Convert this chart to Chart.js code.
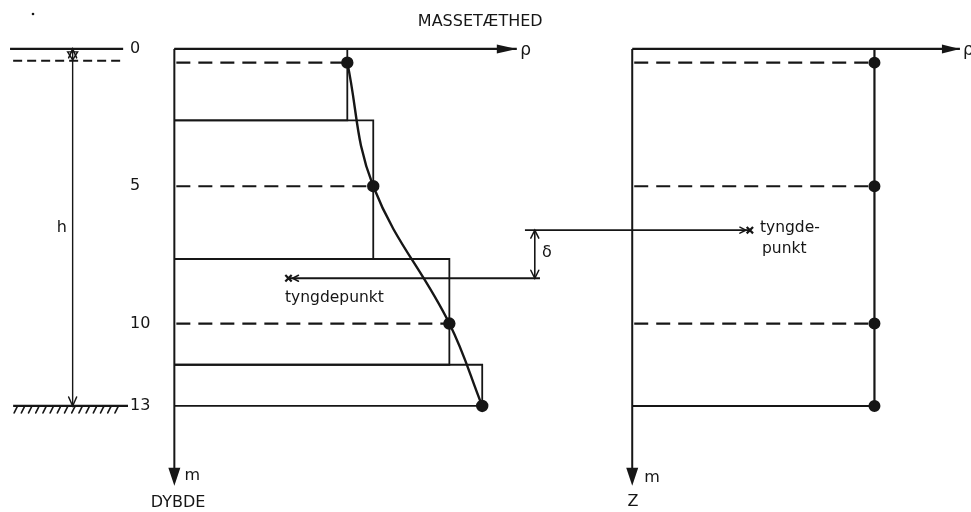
<!DOCTYPE html>
<html><head><meta charset="utf-8">
<script src="https://cdn.jsdelivr.net/npm/chart.js@4/dist/chart.umd.min.js"></script>
<style>html,body{margin:0;padding:0;background:#fff;overflow:hidden}#wrap{width:971px;height:512px}</style>
</head><body><div id="wrap"><canvas id="c" width="971" height="512"></canvas></div>
<script>
// ---------- data (depth in m, density in relative units) ----------
const depthTicks = [0, 5, 10, 13];
const depthTickLabels = ['0', '5', '10', '13'];
const sampleDepth = [0.5, 5, 10, 13];
const sampleDensity = [5.0, 5.75, 7.95, 8.9];
const layerTop = [0, 2.6, 7.65, 11.5];
const layerBottom = [2.6, 7.65, 11.5, 13];
const layerDensity = [5.0, 5.75, 7.95, 8.9];
const meanDensity = 7.0;
const waterDepth = 13;
const centroidDepthReal = 8.35;
const centroidDepthUniform = 6.6;

// ---------- layout (data units of the hidden scales) ----------
const AX = {xMin: -5.04, xMax: 23.03, x2Min: -18.27, x2Max: 9.79, yMin: -1.78, yMax: 16.86};
const rhoTipL = 9.9, rhoTipR = 9.47, depthTip = 15.9;
const cgReal = {from: 10.57, to: 3.3};      // left panel units
const cgUni = {from: -3.1, to: 3.4};        // right panel units
const deltaX = 10.42;                        // left panel units
const sketch = {surfFrom: -4.75, surfTo: -1.48, dashFrom: -4.66, dashDepth: 0.43,
                hX: -2.94, groundFrom: -4.66, groundTo: -1.34};
const INK = '#161616';

function seg(x1, y1, x2, y2) { return [{x: x1, y: y1}, {x: x2, y: y2}]; }
function line(data, opts) {
  return Object.assign({data, showLine: true, borderColor: INK, backgroundColor: INK,
    borderWidth: 2, pointRadius: 0, tension: 0, xAxisID: 'x', yAxisID: 'y'}, opts || {});
}

const datasets = [];
// left panel axes
datasets.push(line(seg(0, 0, rhoTipL, 0), {borderWidth: 2.3}));
datasets.push(line(seg(0, 0, 0, depthTip - 0.3)));
// layers (step profile)
layerTop.forEach((t, i) => {
  const b = layerBottom[i], r = layerDensity[i];
  datasets.push(line([{x: 0, y: t}, {x: r, y: t}, {x: r, y: b}, {x: 0, y: b}], {borderWidth: 1.8}));
});
// dashed sample depths (left)
sampleDepth.forEach((d, i) => {
  if (d < waterDepth) datasets.push(line(seg(0, d, sampleDensity[i], d), {borderDash: [14, 8], borderDashOffset: 20, borderWidth: 2.2}));
});
// measured density curve with sample points
datasets.push(line(sampleDepth.map((d, i) => ({x: sampleDensity[i], y: d})),
  {tension: 0.4, borderWidth: 2.4, pointRadius: 5, pointBackgroundColor: INK, pointBorderColor: INK}));

// right panel
const R = {xAxisID: 'x2'};
datasets.push(line(seg(0, 0, rhoTipR, 0), Object.assign({borderWidth: 2.3}, R)));
datasets.push(line(seg(0, 0, 0, depthTip - 0.3), R));
datasets.push(line(seg(meanDensity, 0, meanDensity, waterDepth), Object.assign({borderWidth: 2.2}, R)));
sampleDepth.forEach((d) => {
  if (d < waterDepth) datasets.push(line(seg(0, d, meanDensity, d), Object.assign({borderDash: [14, 8], borderDashOffset: 20, borderWidth: 2.2}, R)));
  else datasets.push(line(seg(0, d, meanDensity, d), R));
});
datasets.push(line(sampleDepth.map(d => ({x: meanDensity, y: d})),
  Object.assign({showLine: false, pointRadius: 5, pointBackgroundColor: INK, pointBorderColor: INK}, R)));

// centre of gravity lines
datasets.push(line(seg(cgReal.from, centroidDepthReal, cgReal.to, centroidDepthReal),
  {borderWidth: 1.8, pointStyle: 'crossRot', pointRadius: [0, 4.5], pointBorderWidth: 2.2}));
datasets.push(line(seg(cgUni.from, centroidDepthUniform, cgUni.to, centroidDepthUniform),
  Object.assign({borderWidth: 1.8, pointStyle: 'crossRot', pointRadius: [0, 4.5], pointBorderWidth: 2.2}, R)));
datasets.push(line(seg(deltaX, centroidDepthUniform, deltaX, centroidDepthReal), {borderWidth: 1.6}));

// water column sketch
datasets.push(line(seg(sketch.surfFrom, 0, sketch.surfTo, 0), {borderWidth: 2.2}));
datasets.push(line(seg(sketch.dashFrom, sketch.dashDepth, sketch.surfTo, sketch.dashDepth), {borderWidth: 2, borderDash: [9, 5]}));
datasets.push(line(seg(sketch.hX, 0, sketch.hX, waterDepth), {borderWidth: 1.4}));
datasets.push(line(seg(sketch.groundFrom, waterDepth, sketch.groundTo, waterDepth), {borderWidth: 2.2}));

const decor = {
  id: 'decor',
  afterDatasetsDraw(chart) {
    const {ctx} = chart;
    const sx = chart.scales.x, sx2 = chart.scales.x2, sy = chart.scales.y;
    const X = v => sx.getPixelForValue(v), X2 = v => sx2.getPixelForValue(v), Y = v => sy.getPixelForValue(v);
    ctx.save();
    ctx.fillStyle = INK; ctx.strokeStyle = INK; ctx.lineCap = 'round';
    function filled(tx, ty, dir, len, hw) {
      ctx.beginPath(); ctx.moveTo(tx, ty);
      if (dir === 'r') { ctx.lineTo(tx - len, ty - hw); ctx.lineTo(tx - len, ty + hw); }
      else { ctx.lineTo(tx - hw, ty - len); ctx.lineTo(tx + hw, ty - len); }
      ctx.closePath(); ctx.fill();
    }
    function open(tx, ty, dir, len, hw) {
      ctx.beginPath(); ctx.lineWidth = 1.5;
      if (dir === 'u') { ctx.moveTo(tx - hw, ty + len); ctx.lineTo(tx, ty); ctx.lineTo(tx + hw, ty + len); }
      if (dir === 'd') { ctx.moveTo(tx - hw, ty - len); ctx.lineTo(tx, ty); ctx.lineTo(tx + hw, ty - len); }
      if (dir === 'l') { ctx.moveTo(tx + len, ty - hw); ctx.lineTo(tx, ty); ctx.lineTo(tx + len, ty + hw); }
      if (dir === 'r') { ctx.moveTo(tx - len, ty - hw); ctx.lineTo(tx, ty); ctx.lineTo(tx - len, ty + hw); }
      ctx.stroke();
    }
    // axis arrowheads
    filled(X(rhoTipL), Y(0), 'r', 20, 4.5);
    filled(X2(rhoTipR), Y(0), 'r', 18, 4.5);
    filled(X(0), Y(depthTip), 'd', 18, 6);
    filled(X2(0), Y(depthTip), 'd', 18, 6);
    // dimension arrows
    open(X(sketch.hX), Y(0), 'u', 9, 4);
    open(X(sketch.hX), Y(waterDepth), 'd', 9, 4);
    open(X(deltaX), Y(centroidDepthUniform), 'u', 8, 4);
    open(X(deltaX), Y(centroidDepthReal), 'd', 8, 4);
    open(X(cgReal.to) + 4, Y(centroidDepthReal), 'l', 6, 3);
    open(X2(cgUni.to) - 4, Y(centroidDepthUniform), 'r', 6, 3);
    // water level symbol
    const wx = X(sketch.hX), wy = Y(0);
    ctx.lineWidth = 1.4; ctx.beginPath();
    ctx.moveTo(wx - 5, wy + 3); ctx.lineTo(wx + 5, wy + 3); ctx.lineTo(wx, wy + 11); ctx.closePath(); ctx.stroke();
    // seabed hatching
    const gy = Y(waterDepth);
    ctx.lineWidth = 1.6;
    for (let px = X(sketch.groundFrom) + 4; px < X(sketch.groundTo) - 6; px += 7.2) {
      ctx.beginPath(); ctx.moveTo(px, gy + 1); ctx.lineTo(px - 3, gy + 7); ctx.stroke();
    }
    // stray scan dot
    ctx.beginPath(); ctx.arc(33, 14, 1.3, 0, Math.PI * 2); ctx.fill();
    // texts
    const F = 'DejaVu Sans, Liberation Sans, sans-serif';
    function txt(s, px, py, size, align) {
      ctx.font = size + 'px ' + F; ctx.textAlign = align || 'left'; ctx.textBaseline = 'middle';
      ctx.fillText(s, px, py);
    }
    txt('MASSETÆTHED', X(7.04), Y(-0.98), 16);
    txt('ρ', X(10.0), Y(0.05), 17);
    txt('ρ', X2(9.56), Y(0.05), 17);
    depthTicks.forEach((d, i) => txt(depthTickLabels[i], X(-1.28), Y(d), 16));
    txt('h', X(-3.25), Y(waterDepth / 2), 16, 'center');
    txt('m', X(0.52), Y(15.55), 16, 'center');
    txt('DYBDE', X(0.11), Y(16.53), 16, 'center');
    txt('m', X2(0.57), Y(15.6), 16, 'center');
    txt('Z', X2(0.02), Y(16.5), 16, 'center');
    txt('tyngdepunkt', X(3.2), Y(9.07), 15.5);
    txt('tyngde-', X2(3.69), Y(6.52), 15.5);
    txt('punkt', X2(3.75), Y(7.29), 15.5);
    txt('δ', X(10.77), Y(7.43), 16, 'center');
    ctx.restore();
  }
};

new Chart(document.getElementById('c'), {
  type: 'scatter',
  data: {datasets},
  options: {
    responsive: false, animation: false, events: [],
    layout: {padding: 0, autoPadding: false},
    plugins: {legend: {display: false}, tooltip: {enabled: false}},
    scales: {
      x: {type: 'linear', display: false, min: AX.xMin, max: AX.xMax},
      x2: {type: 'linear', display: false, min: AX.x2Min, max: AX.x2Max},
      y: {type: 'linear', display: false, reverse: true, min: AX.yMin, max: AX.yMax}
    }
  },
  plugins: [decor]
});
</script>
</body></html>
